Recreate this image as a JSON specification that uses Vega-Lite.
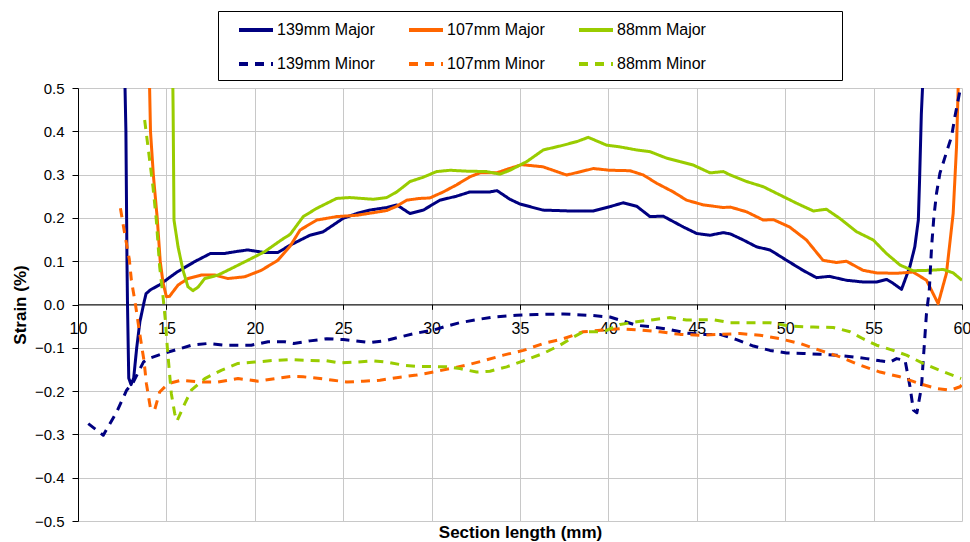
{
  "$schema": "https://vega.github.io/schema/vega-lite/v6.json",
  "autosize": {"type": "none"},
  "width": 884,
  "height": 433,
  "padding": {"left": 78, "top": 88, "right": 8, "bottom": 21},
  "background": "#ffffff",
  "config": {
    "view": {"stroke": null},
    "font": "Liberation Sans"
  },
  "data": {"values": [
    {"s":"139mm Major","x":12.6,"y":0.56},{"s":"139mm Major","x":12.66,"y":0.5},{"s":"139mm Major","x":12.71,"y":0.4},{"s":"139mm Major","x":12.75,"y":0.2},{"s":"139mm Major","x":12.77,"y":0.1},{"s":"139mm Major","x":12.8,"y":0.0},{"s":"139mm Major","x":12.87,"y":-0.17},{"s":"139mm Major","x":13.0,"y":-0.185},{"s":"139mm Major","x":13.15,"y":-0.17},{"s":"139mm Major","x":13.32,"y":-0.1},{"s":"139mm Major","x":13.5,"y":-0.04},{"s":"139mm Major","x":13.75,"y":0.008},{"s":"139mm Major","x":13.85,"y":0.025},{"s":"139mm Major","x":14.1,"y":0.034},{"s":"139mm Major","x":14.6,"y":0.045},{"s":"139mm Major","x":15.6,"y":0.075},{"s":"139mm Major","x":16.6,"y":0.099},{"s":"139mm Major","x":17.5,"y":0.118},{"s":"139mm Major","x":18.3,"y":0.118},{"s":"139mm Major","x":18.9,"y":0.122},{"s":"139mm Major","x":19.6,"y":0.126},{"s":"139mm Major","x":20.55,"y":0.12},{"s":"139mm Major","x":21.3,"y":0.12},{"s":"139mm Major","x":22.0,"y":0.137},{"s":"139mm Major","x":23.12,"y":0.16},{"s":"139mm Major","x":23.87,"y":0.168},{"s":"139mm Major","x":25.0,"y":0.199},{"s":"139mm Major","x":25.76,"y":0.21},{"s":"139mm Major","x":26.5,"y":0.218},{"s":"139mm Major","x":27.46,"y":0.224},{"s":"139mm Major","x":28.03,"y":0.23},{"s":"139mm Major","x":28.78,"y":0.21},{"s":"139mm Major","x":29.53,"y":0.218},{"s":"139mm Major","x":30.47,"y":0.241},{"s":"139mm Major","x":31.4,"y":0.25},{"s":"139mm Major","x":32.17,"y":0.26},{"s":"139mm Major","x":33.3,"y":0.26},{"s":"139mm Major","x":33.7,"y":0.263},{"s":"139mm Major","x":34.43,"y":0.243},{"s":"139mm Major","x":35.0,"y":0.232},{"s":"139mm Major","x":36.3,"y":0.218},{"s":"139mm Major","x":37.83,"y":0.216},{"s":"139mm Major","x":39.15,"y":0.216},{"s":"139mm Major","x":40.09,"y":0.226},{"s":"139mm Major","x":40.84,"y":0.235},{"s":"139mm Major","x":41.6,"y":0.227},{"s":"139mm Major","x":42.35,"y":0.203},{"s":"139mm Major","x":43.1,"y":0.204},{"s":"139mm Major","x":44.24,"y":0.179},{"s":"139mm Major","x":44.99,"y":0.164},{"s":"139mm Major","x":45.75,"y":0.16},{"s":"139mm Major","x":46.5,"y":0.166},{"s":"139mm Major","x":46.9,"y":0.163},{"s":"139mm Major","x":47.63,"y":0.149},{"s":"139mm Major","x":48.39,"y":0.133},{"s":"139mm Major","x":49.14,"y":0.126},{"s":"139mm Major","x":50.08,"y":0.102},{"s":"139mm Major","x":51.0,"y":0.079},{"s":"139mm Major","x":51.77,"y":0.062},{"s":"139mm Major","x":52.5,"y":0.065},{"s":"139mm Major","x":53.46,"y":0.056},{"s":"139mm Major","x":54.4,"y":0.052},{"s":"139mm Major","x":55.17,"y":0.052},{"s":"139mm Major","x":55.74,"y":0.058},{"s":"139mm Major","x":56.1,"y":0.049},{"s":"139mm Major","x":56.58,"y":0.035},{"s":"139mm Major","x":57.05,"y":0.087},{"s":"139mm Major","x":57.33,"y":0.133},{"s":"139mm Major","x":57.53,"y":0.195},{"s":"139mm Major","x":57.6,"y":0.287},{"s":"139mm Major","x":57.7,"y":0.44},{"s":"139mm Major","x":57.77,"y":0.503},{"s":"139mm Major","x":57.8,"y":0.56},

    {"s":"107mm Major","x":14.03,"y":0.56},{"s":"107mm Major","x":14.05,"y":0.5},{"s":"107mm Major","x":14.1,"y":0.4},{"s":"107mm Major","x":14.26,"y":0.3},{"s":"107mm Major","x":14.48,"y":0.2},{"s":"107mm Major","x":14.65,"y":0.1},{"s":"107mm Major","x":14.81,"y":0.05},{"s":"107mm Major","x":15.0,"y":0.018},{"s":"107mm Major","x":15.18,"y":0.019},{"s":"107mm Major","x":15.66,"y":0.045},{"s":"107mm Major","x":16.22,"y":0.06},{"s":"107mm Major","x":16.97,"y":0.068},{"s":"107mm Major","x":17.73,"y":0.068},{"s":"107mm Major","x":18.48,"y":0.06},{"s":"107mm Major","x":19.43,"y":0.064},{"s":"107mm Major","x":20.37,"y":0.079},{"s":"107mm Major","x":21.3,"y":0.102},{"s":"107mm Major","x":22.0,"y":0.135},{"s":"107mm Major","x":22.56,"y":0.172},{"s":"107mm Major","x":23.5,"y":0.195},{"s":"107mm Major","x":24.63,"y":0.203},{"s":"107mm Major","x":25.76,"y":0.206},{"s":"107mm Major","x":26.7,"y":0.212},{"s":"107mm Major","x":27.46,"y":0.217},{"s":"107mm Major","x":28.03,"y":0.227},{"s":"107mm Major","x":28.59,"y":0.241},{"s":"107mm Major","x":29.34,"y":0.245},{"s":"107mm Major","x":29.9,"y":0.246},{"s":"107mm Major","x":30.66,"y":0.26},{"s":"107mm Major","x":31.4,"y":0.276},{"s":"107mm Major","x":32.17,"y":0.295},{"s":"107mm Major","x":32.74,"y":0.304},{"s":"107mm Major","x":33.68,"y":0.304},{"s":"107mm Major","x":34.25,"y":0.312},{"s":"107mm Major","x":35.1,"y":0.323},{"s":"107mm Major","x":36.3,"y":0.318},{"s":"107mm Major","x":37.64,"y":0.299},{"s":"107mm Major","x":39.15,"y":0.314},{"s":"107mm Major","x":40.09,"y":0.31},{"s":"107mm Major","x":41.22,"y":0.309},{"s":"107mm Major","x":41.98,"y":0.299},{"s":"107mm Major","x":42.73,"y":0.28},{"s":"107mm Major","x":43.67,"y":0.26},{"s":"107mm Major","x":44.42,"y":0.241},{"s":"107mm Major","x":45.37,"y":0.23},{"s":"107mm Major","x":46.5,"y":0.224},{"s":"107mm Major","x":46.9,"y":0.225},{"s":"107mm Major","x":47.82,"y":0.214},{"s":"107mm Major","x":48.76,"y":0.195},{"s":"107mm Major","x":49.33,"y":0.196},{"s":"107mm Major","x":50.25,"y":0.179},{"s":"107mm Major","x":51.2,"y":0.149},{"s":"107mm Major","x":52.14,"y":0.102},{"s":"107mm Major","x":52.9,"y":0.097},{"s":"107mm Major","x":53.46,"y":0.1},{"s":"107mm Major","x":54.4,"y":0.079},{"s":"107mm Major","x":55.17,"y":0.073},{"s":"107mm Major","x":56.3,"y":0.072},{"s":"107mm Major","x":57.23,"y":0.075},{"s":"107mm Major","x":57.99,"y":0.056},{"s":"107mm Major","x":58.65,"y":0.002},{"s":"107mm Major","x":59.12,"y":0.072},{"s":"107mm Major","x":59.5,"y":0.21},{"s":"107mm Major","x":59.69,"y":0.364},{"s":"107mm Major","x":59.78,"y":0.495},{"s":"107mm Major","x":59.82,"y":0.56},

    {"s":"88mm Major","x":15.35,"y":0.56},{"s":"88mm Major","x":15.38,"y":0.45},{"s":"88mm Major","x":15.41,"y":0.3},{"s":"88mm Major","x":15.43,"y":0.195},{"s":"88mm Major","x":15.66,"y":0.133},{"s":"88mm Major","x":15.94,"y":0.079},{"s":"88mm Major","x":16.22,"y":0.041},{"s":"88mm Major","x":16.5,"y":0.032},{"s":"88mm Major","x":16.79,"y":0.04},{"s":"88mm Major","x":17.17,"y":0.06},{"s":"88mm Major","x":17.92,"y":0.068},{"s":"88mm Major","x":18.67,"y":0.083},{"s":"88mm Major","x":19.6,"y":0.102},{"s":"88mm Major","x":20.56,"y":0.122},{"s":"88mm Major","x":21.5,"y":0.149},{"s":"88mm Major","x":22.0,"y":0.162},{"s":"88mm Major","x":22.74,"y":0.203},{"s":"88mm Major","x":23.5,"y":0.222},{"s":"88mm Major","x":24.63,"y":0.245},{"s":"88mm Major","x":25.38,"y":0.247},{"s":"88mm Major","x":26.7,"y":0.243},{"s":"88mm Major","x":27.46,"y":0.247},{"s":"88mm Major","x":28.03,"y":0.26},{"s":"88mm Major","x":28.78,"y":0.284},{"s":"88mm Major","x":29.53,"y":0.294},{"s":"88mm Major","x":30.28,"y":0.307},{"s":"88mm Major","x":31.04,"y":0.31},{"s":"88mm Major","x":31.98,"y":0.308},{"s":"88mm Major","x":33.1,"y":0.307},{"s":"88mm Major","x":33.87,"y":0.301},{"s":"88mm Major","x":34.43,"y":0.31},{"s":"88mm Major","x":35.38,"y":0.33},{"s":"88mm Major","x":36.32,"y":0.357},{"s":"88mm Major","x":37.26,"y":0.366},{"s":"88mm Major","x":38.2,"y":0.376},{"s":"88mm Major","x":38.86,"y":0.386},{"s":"88mm Major","x":39.9,"y":0.368},{"s":"88mm Major","x":40.65,"y":0.364},{"s":"88mm Major","x":41.59,"y":0.357},{"s":"88mm Major","x":42.35,"y":0.353},{"s":"88mm Major","x":43.29,"y":0.338},{"s":"88mm Major","x":44.05,"y":0.33},{"s":"88mm Major","x":44.8,"y":0.322},{"s":"88mm Major","x":45.75,"y":0.304},{"s":"88mm Major","x":46.5,"y":0.307},{"s":"88mm Major","x":46.9,"y":0.299},{"s":"88mm Major","x":47.82,"y":0.284},{"s":"88mm Major","x":48.76,"y":0.272},{"s":"88mm Major","x":49.7,"y":0.253},{"s":"88mm Major","x":50.64,"y":0.234},{"s":"88mm Major","x":51.59,"y":0.216},{"s":"88mm Major","x":52.33,"y":0.22},{"s":"88mm Major","x":53.08,"y":0.199},{"s":"88mm Major","x":54.04,"y":0.168},{"s":"88mm Major","x":54.98,"y":0.149},{"s":"88mm Major","x":55.72,"y":0.118},{"s":"88mm Major","x":56.5,"y":0.091},{"s":"88mm Major","x":57.23,"y":0.078},{"s":"88mm Major","x":58.19,"y":0.079},{"s":"88mm Major","x":58.94,"y":0.081},{"s":"88mm Major","x":59.5,"y":0.073},{"s":"88mm Major","x":60.0,"y":0.056},

    {"s":"139mm Minor","x":10.58,"y":-0.275},{"s":"139mm Minor","x":11.43,"y":-0.302},{"s":"139mm Minor","x":12.19,"y":-0.248},{"s":"139mm Minor","x":12.75,"y":-0.198},{"s":"139mm Minor","x":13.13,"y":-0.179},{"s":"139mm Minor","x":13.7,"y":-0.133},{"s":"139mm Minor","x":13.98,"y":-0.125},{"s":"139mm Minor","x":14.83,"y":-0.113},{"s":"139mm Minor","x":15.77,"y":-0.102},{"s":"139mm Minor","x":16.41,"y":-0.094},{"s":"139mm Minor","x":17.35,"y":-0.09},{"s":"139mm Minor","x":18.3,"y":-0.094},{"s":"139mm Minor","x":19.8,"y":-0.094},{"s":"139mm Minor","x":20.75,"y":-0.086},{"s":"139mm Minor","x":21.69,"y":-0.086},{"s":"139mm Minor","x":22.2,"y":-0.09},{"s":"139mm Minor","x":23.12,"y":-0.084},{"s":"139mm Minor","x":24.07,"y":-0.079},{"s":"139mm Minor","x":25.0,"y":-0.081},{"s":"139mm Minor","x":26.51,"y":-0.088},{"s":"139mm Minor","x":27.46,"y":-0.083},{"s":"139mm Minor","x":28.21,"y":-0.075},{"s":"139mm Minor","x":29.15,"y":-0.066},{"s":"139mm Minor","x":30.1,"y":-0.059},{"s":"139mm Minor","x":30.85,"y":-0.05},{"s":"139mm Minor","x":31.6,"y":-0.042},{"s":"139mm Minor","x":32.55,"y":-0.035},{"s":"139mm Minor","x":33.49,"y":-0.029},{"s":"139mm Minor","x":34.81,"y":-0.025},{"s":"139mm Minor","x":35.94,"y":-0.023},{"s":"139mm Minor","x":37.45,"y":-0.022},{"s":"139mm Minor","x":38.96,"y":-0.025},{"s":"139mm Minor","x":40.09,"y":-0.029},{"s":"139mm Minor","x":40.66,"y":-0.036},{"s":"139mm Minor","x":41.6,"y":-0.048},{"s":"139mm Minor","x":42.54,"y":-0.052},{"s":"139mm Minor","x":43.48,"y":-0.058},{"s":"139mm Minor","x":44.42,"y":-0.066},{"s":"139mm Minor","x":45.37,"y":-0.069},{"s":"139mm Minor","x":46.31,"y":-0.069},{"s":"139mm Minor","x":47.25,"y":-0.081},{"s":"139mm Minor","x":48.2,"y":-0.096},{"s":"139mm Minor","x":49.14,"y":-0.106},{"s":"139mm Minor","x":50.08,"y":-0.112},{"s":"139mm Minor","x":51.02,"y":-0.113},{"s":"139mm Minor","x":51.97,"y":-0.115},{"s":"139mm Minor","x":52.91,"y":-0.117},{"s":"139mm Minor","x":53.86,"y":-0.121},{"s":"139mm Minor","x":54.6,"y":-0.125},{"s":"139mm Minor","x":55.36,"y":-0.13},{"s":"139mm Minor","x":55.93,"y":-0.133},{"s":"139mm Minor","x":56.3,"y":-0.125},{"s":"139mm Minor","x":56.78,"y":-0.129},{"s":"139mm Minor","x":57.06,"y":-0.19},{"s":"139mm Minor","x":57.25,"y":-0.244},{"s":"139mm Minor","x":57.45,"y":-0.25},{"s":"139mm Minor","x":57.71,"y":-0.19},{"s":"139mm Minor","x":57.8,"y":-0.133},{"s":"139mm Minor","x":57.9,"y":-0.075},{"s":"139mm Minor","x":57.99,"y":-0.021},{"s":"139mm Minor","x":58.15,"y":0.033},{"s":"139mm Minor","x":58.28,"y":0.133},{"s":"139mm Minor","x":58.41,"y":0.203},{"s":"139mm Minor","x":58.56,"y":0.257},{"s":"139mm Minor","x":58.75,"y":0.303},{"s":"139mm Minor","x":59.22,"y":0.364},{"s":"139mm Minor","x":59.41,"y":0.388},{"s":"139mm Minor","x":59.6,"y":0.434},{"s":"139mm Minor","x":59.89,"y":0.495},{"s":"139mm Minor","x":60.0,"y":0.5},

    {"s":"107mm Minor","x":12.4,"y":0.222},{"s":"107mm Minor","x":12.64,"y":0.164},{"s":"107mm Minor","x":12.9,"y":0.105},{"s":"107mm Minor","x":13.02,"y":0.056},{"s":"107mm Minor","x":13.25,"y":0.0},{"s":"107mm Minor","x":13.49,"y":-0.067},{"s":"107mm Minor","x":13.73,"y":-0.129},{"s":"107mm Minor","x":13.87,"y":-0.183},{"s":"107mm Minor","x":14.1,"y":-0.24},{"s":"107mm Minor","x":14.33,"y":-0.244},{"s":"107mm Minor","x":14.62,"y":-0.202},{"s":"107mm Minor","x":15.09,"y":-0.183},{"s":"107mm Minor","x":15.84,"y":-0.175},{"s":"107mm Minor","x":16.97,"y":-0.179},{"s":"107mm Minor","x":17.92,"y":-0.179},{"s":"107mm Minor","x":19.05,"y":-0.171},{"s":"107mm Minor","x":20.18,"y":-0.177},{"s":"107mm Minor","x":21.31,"y":-0.17},{"s":"107mm Minor","x":22.06,"y":-0.166},{"s":"107mm Minor","x":22.74,"y":-0.167},{"s":"107mm Minor","x":23.69,"y":-0.171},{"s":"107mm Minor","x":24.44,"y":-0.175},{"s":"107mm Minor","x":25.2,"y":-0.179},{"s":"107mm Minor","x":26.14,"y":-0.177},{"s":"107mm Minor","x":27.08,"y":-0.175},{"s":"107mm Minor","x":28.01,"y":-0.169},{"s":"107mm Minor","x":29.15,"y":-0.163},{"s":"107mm Minor","x":30.1,"y":-0.156},{"s":"107mm Minor","x":31.04,"y":-0.148},{"s":"107mm Minor","x":31.98,"y":-0.14},{"s":"107mm Minor","x":32.93,"y":-0.13},{"s":"107mm Minor","x":34.06,"y":-0.117},{"s":"107mm Minor","x":35.19,"y":-0.106},{"s":"107mm Minor","x":36.32,"y":-0.09},{"s":"107mm Minor","x":37.45,"y":-0.079},{"s":"107mm Minor","x":38.58,"y":-0.063},{"s":"107mm Minor","x":39.71,"y":-0.059},{"s":"107mm Minor","x":40.66,"y":-0.056},{"s":"107mm Minor","x":41.79,"y":-0.059},{"s":"107mm Minor","x":42.92,"y":-0.063},{"s":"107mm Minor","x":44.05,"y":-0.069},{"s":"107mm Minor","x":45.18,"y":-0.071},{"s":"107mm Minor","x":46.31,"y":-0.069},{"s":"107mm Minor","x":47.44,"y":-0.067},{"s":"107mm Minor","x":48.57,"y":-0.071},{"s":"107mm Minor","x":49.7,"y":-0.079},{"s":"107mm Minor","x":50.84,"y":-0.09},{"s":"107mm Minor","x":51.97,"y":-0.106},{"s":"107mm Minor","x":53.1,"y":-0.121},{"s":"107mm Minor","x":54.23,"y":-0.14},{"s":"107mm Minor","x":55.36,"y":-0.156},{"s":"107mm Minor","x":56.49,"y":-0.167},{"s":"107mm Minor","x":57.62,"y":-0.183},{"s":"107mm Minor","x":58.56,"y":-0.194},{"s":"107mm Minor","x":59.32,"y":-0.198},{"s":"107mm Minor","x":59.89,"y":-0.19},{"s":"107mm Minor","x":60.0,"y":-0.185},

    {"s":"88mm Minor","x":13.77,"y":0.426},{"s":"88mm Minor","x":13.96,"y":0.364},{"s":"88mm Minor","x":14.24,"y":0.272},{"s":"88mm Minor","x":14.43,"y":0.195},{"s":"88mm Minor","x":14.62,"y":0.087},{"s":"88mm Minor","x":14.81,"y":0.018},{"s":"88mm Minor","x":14.94,"y":-0.036},{"s":"88mm Minor","x":15.05,"y":-0.098},{"s":"88mm Minor","x":15.18,"y":-0.16},{"s":"88mm Minor","x":15.28,"y":-0.206},{"s":"88mm Minor","x":15.47,"y":-0.252},{"s":"88mm Minor","x":15.6,"y":-0.269},{"s":"88mm Minor","x":16.04,"y":-0.229},{"s":"88mm Minor","x":16.41,"y":-0.198},{"s":"88mm Minor","x":17.17,"y":-0.171},{"s":"88mm Minor","x":18.1,"y":-0.152},{"s":"88mm Minor","x":19.05,"y":-0.136},{"s":"88mm Minor","x":19.99,"y":-0.133},{"s":"88mm Minor","x":21.12,"y":-0.129},{"s":"88mm Minor","x":22.0,"y":-0.127},{"s":"88mm Minor","x":22.93,"y":-0.129},{"s":"88mm Minor","x":24.06,"y":-0.13},{"s":"88mm Minor","x":24.8,"y":-0.135},{"s":"88mm Minor","x":25.76,"y":-0.133},{"s":"88mm Minor","x":26.7,"y":-0.13},{"s":"88mm Minor","x":27.46,"y":-0.133},{"s":"88mm Minor","x":28.4,"y":-0.14},{"s":"88mm Minor","x":29.15,"y":-0.143},{"s":"88mm Minor","x":29.9,"y":-0.143},{"s":"88mm Minor","x":30.85,"y":-0.144},{"s":"88mm Minor","x":31.6,"y":-0.148},{"s":"88mm Minor","x":32.55,"y":-0.156},{"s":"88mm Minor","x":33.3,"y":-0.154},{"s":"88mm Minor","x":34.25,"y":-0.144},{"s":"88mm Minor","x":35.19,"y":-0.13},{"s":"88mm Minor","x":36.32,"y":-0.113},{"s":"88mm Minor","x":37.26,"y":-0.094},{"s":"88mm Minor","x":38.02,"y":-0.075},{"s":"88mm Minor","x":38.58,"y":-0.063},{"s":"88mm Minor","x":39.71,"y":-0.063},{"s":"88mm Minor","x":40.66,"y":-0.046},{"s":"88mm Minor","x":41.6,"y":-0.04},{"s":"88mm Minor","x":42.54,"y":-0.035},{"s":"88mm Minor","x":43.48,"y":-0.03},{"s":"88mm Minor","x":44.42,"y":-0.036},{"s":"88mm Minor","x":45.18,"y":-0.035},{"s":"88mm Minor","x":45.93,"y":-0.035},{"s":"88mm Minor","x":46.88,"y":-0.042},{"s":"88mm Minor","x":48.2,"y":-0.042},{"s":"88mm Minor","x":49.14,"y":-0.042},{"s":"88mm Minor","x":50.27,"y":-0.05},{"s":"88mm Minor","x":51.59,"y":-0.052},{"s":"88mm Minor","x":52.72,"y":-0.053},{"s":"88mm Minor","x":53.67,"y":-0.063},{"s":"88mm Minor","x":54.4,"y":-0.079},{"s":"88mm Minor","x":55.17,"y":-0.094},{"s":"88mm Minor","x":56.1,"y":-0.106},{"s":"88mm Minor","x":56.86,"y":-0.117},{"s":"88mm Minor","x":57.8,"y":-0.136},{"s":"88mm Minor","x":58.75,"y":-0.152},{"s":"88mm Minor","x":59.69,"y":-0.167},{"s":"88mm Minor","x":59.95,"y":-0.171}
  ]},
  "mark": {"type": "line", "strokeWidth": 3, "clip": true, "strokeJoin": "round"},
  "encoding": {
    "x": {
      "field": "x", "type": "quantitative",
      "scale": {"domain": [10, 60], "nice": false, "zero": false},
      "axis": {
        "values": [10, 15, 20, 25, 30, 35, 40, 45, 50, 55, 60],
        "offset": -216.7,
        "domainColor": "#000000", "domainWidth": 1,
        "tickColor": "#000000", "tickSize": 5,
        "labelFontSize": 16, "labelColor": "#000000", "labelPadding": 11,
        "labelFlush": false, "labelOverlap": false, "labelBound": false,
        "grid": true, "gridColor": "#c8c8c8", "gridWidth": 1,
        "title": "Section length (mm)",
        "titleFontSize": 17, "titleFontWeight": "bold", "titleColor": "#000000",
        "titleBaseline": "alphabetic", "titleY": 233, "titleX": 442, "titleAnchor": "middle"
      }
    },
    "y": {
      "field": "y", "type": "quantitative",
      "scale": {"domain": [-0.5, 0.5], "nice": false, "zero": false},
      "axis": {
        "values": [-0.5, -0.4, -0.3, -0.2, -0.1, 0, 0.1, 0.2, 0.3, 0.4, 0.5],
        "format": ".1f",
        "domainColor": "#000000", "domainWidth": 1,
        "tickColor": "#000000", "tickSize": 6,
        "labelFontSize": 15, "labelColor": "#000000", "labelPadding": 8,
        "labelOverlap": false, "labelBound": false, "labelFlush": false,
        "grid": true, "gridColor": "#c8c8c8", "gridWidth": 1,
        "title": "Strain (%)",
        "titleFontSize": 17, "titleFontWeight": "bold", "titleColor": "#000000",
        "titleBaseline": "alphabetic", "titleX": -52.5, "titleY": 216.5, "titleAngle": 270, "titleAnchor": "middle"
      }
    },
    "color": {
      "field": "s", "type": "nominal",
      "scale": {
        "domain": ["139mm Major", "107mm Major", "88mm Major", "139mm Minor", "107mm Minor", "88mm Minor"],
        "range": ["#000080", "#FF6600", "#99CC00", "#000080", "#FF6600", "#99CC00"]
      },
      "legend": {
        "orient": "none", "legendX": 140, "legendY": -77,
        "direction": "horizontal", "columns": 3,
        "title": ["\u00a0", "\u00a0", "\u00a0"], "titleOrient": "right", "titlePadding": 136, "titleFontSize": 10,
        "titleLineHeight": 28, "titleBaseline": "top",
        "strokeColor": "#000000", "fillColor": "#ffffff", "padding": 0,
        "symbolType": "stroke", "symbolSize": 1156, "symbolStrokeWidth": 4,
        "symbolOffset": 19, "labelOffset": 2,
        "labelFont": "Liberation Sans", "labelFontSize": 16, "labelColor": "#000000", "labelLimit": 0,
        "columnPadding": 13, "rowPadding": 7
      }
    },
    "strokeDash": {
      "field": "s", "type": "nominal",
      "scale": {
        "domain": ["139mm Major", "107mm Major", "88mm Major", "139mm Minor", "107mm Minor", "88mm Minor"],
        "range": [[1, 0], [1, 0], [1, 0], [9, 7], [9, 7], [9, 7]]
      },
      "legend": {
        "orient": "none", "legendX": 140, "legendY": -77,
        "direction": "horizontal", "columns": 3,
        "title": ["\u00a0", "\u00a0", "\u00a0"], "titleOrient": "right", "titlePadding": 136, "titleFontSize": 10,
        "titleLineHeight": 28, "titleBaseline": "top",
        "strokeColor": "#000000", "fillColor": "#ffffff", "padding": 0,
        "symbolType": "stroke", "symbolSize": 1156, "symbolStrokeWidth": 4,
        "symbolOffset": 19, "labelOffset": 2,
        "labelFont": "Liberation Sans", "labelFontSize": 16, "labelColor": "#000000", "labelLimit": 0,
        "columnPadding": 13, "rowPadding": 7
      }
    }
  }
}
